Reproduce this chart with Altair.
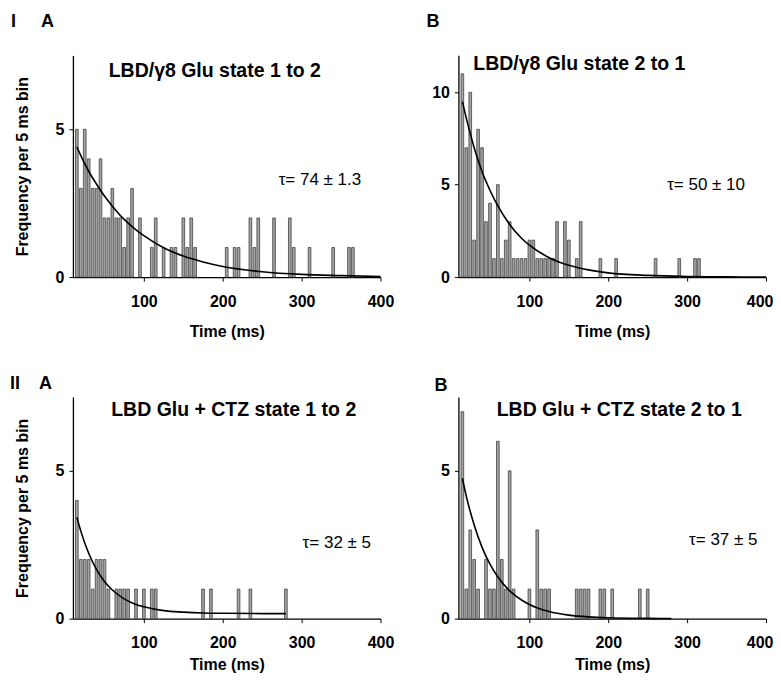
import altair as alt
import pandas as pd

FONT = "Liberation Sans"

# ---------- Panel I A : LBD/γ8 Glu state 1 to 2 ----------
ia_t = [15, 20, 25, 30, 35, 40, 45, 50, 55, 60, 65, 70, 75, 80, 85, 95, 110, 115, 125,
        135, 140, 150, 155, 160, 165, 205, 215, 220, 235, 240, 245, 265, 285, 290, 310,
        340, 360, 365]
ia_n = [5, 3, 5, 4, 3, 3, 4, 2, 2, 3, 2, 2, 1, 2, 3, 2, 1, 2, 1,
        1, 1, 2, 1, 2, 1, 1, 1, 1, 2, 1, 2, 2, 2, 1, 1,
        1, 1, 1]
ia_ct = [15, 20, 30, 40, 50, 60, 75, 90, 100, 125, 150, 175, 200, 250, 300, 350, 400]
ia_cy = [4.41, 4.11, 3.58, 3.14, 2.74, 2.40, 1.95, 1.60, 1.40, 0.99, 0.71, 0.51, 0.36,
         0.18, 0.09, 0.05, 0.02]

# ---------- Panel I B : LBD/γ8 Glu state 2 to 1 ----------
ib_t = [15, 20, 25, 30, 35, 40, 45, 50, 55, 60, 65, 70, 75, 80, 85, 90, 95, 100, 105,
        110, 115, 120, 125, 130, 135, 145, 150, 160, 165, 190, 210, 260, 290, 310, 315]
ib_n = [11, 7, 10, 2, 8, 7, 3, 4, 1, 5, 1, 2, 3, 1, 1, 1, 1, 2, 2,
        1, 1, 1, 1, 1, 3, 3, 2, 1, 3, 1, 1, 1, 1, 1, 1]
ib_ct = [15, 20, 30, 40, 50, 60, 75, 90, 100, 125, 150, 175, 200, 250, 300, 350, 400]
ib_cy = [9.5, 8.6, 7.0, 5.7, 4.7, 3.85, 2.85, 2.1, 1.73, 1.05, 0.64, 0.39, 0.23,
         0.09, 0.03, 0.01, 0.0]

# ---------- Panel II A : LBD Glu + CTZ state 1 to 2 ----------
iia_t = [15, 20, 25, 30, 35, 40, 45, 50, 55, 65, 70, 75, 80, 90, 100, 110, 115,
         175, 185, 220, 235, 280]
iia_n = [4, 2, 2, 2, 1, 2, 2, 2, 1, 1, 1, 1, 1, 1, 1, 1, 1,
         1, 1, 1, 1, 1]
iia_ct = [15, 20, 30, 40, 50, 60, 75, 90, 100, 125, 150, 175, 200, 250, 280]
iia_cy = [3.43, 2.96, 2.21, 1.66, 1.26, 0.97, 0.67, 0.48, 0.40, 0.27, 0.22, 0.19,
          0.18, 0.17, 0.17]

# ---------- Panel II B : LBD Glu + CTZ state 2 to 1 ----------
iib_t = [15, 20, 25, 30, 35, 45, 50, 55, 60, 65, 70, 75, 80, 100, 110, 115, 120, 125,
         160, 165, 170, 175, 190, 195, 205, 240, 250]
iib_n = [7, 1, 3, 2, 1, 2, 1, 1, 6, 2, 1, 5, 1, 1, 3, 1, 1, 1,
         1, 1, 1, 1, 1, 1, 1, 1, 1]
iib_ct = [15, 20, 30, 40, 50, 60, 75, 90, 100, 125, 150, 175, 200, 250, 280]
iib_cy = [4.75, 4.14, 3.17, 2.41, 1.84, 1.41, 0.94, 0.63, 0.48, 0.24, 0.12, 0.06,
          0.03, 0.01, 0.005]

x_ticks = [100, 200, 300, 400]

W, H = 308, 222


def text_layer(txt, x, y, size, weight="bold", align="left"):
    return alt.Chart(pd.DataFrame({"s": [txt]})).mark_text(
        align=align, baseline="middle", font=FONT, fontSize=size,
        fontWeight=weight, color="black"
    ).encode(x=alt.value(x), y=alt.value(y), text="s:N")


def panel(t, n, ct, cy, ymax, yticks, title, title_xy, tau, tau_xy, letters, ytitle,
          xtitle_pad, right_col):
    xs = alt.Scale(domain=[10, 400], nice=False, zero=False)
    ys = alt.Scale(domain=[0, ymax], nice=False, zero=True)
    if right_col:
        xaxis = alt.Axis(values=x_ticks, title="Time (ms)", grid=False, format="d",
                         labelFlush=True, labelFlushOffset=7, titlePadding=xtitle_pad)
    else:
        xaxis = alt.Axis(values=x_ticks, title="Time (ms)", grid=False, format="d",
                         labelFlush=False, titlePadding=xtitle_pad)
    if ytitle:
        yaxis = alt.Axis(values=yticks, title="Frequency per 5 ms bin", grid=False,
                         format="d", labelFlush=False)
    else:
        yaxis = alt.Axis(values=yticks, title=None, grid=False, format="d",
                         labelFlush=False)
    bars = alt.Chart(pd.DataFrame({"t": t, "n": n})).transform_calculate(
        x0="datum.t - 1.7", x1="datum.t + 1.7", z="0"
    ).mark_rect(fill="#a2a2a2", stroke="#444444", strokeWidth=0.8).encode(
        x=alt.X("x0:Q", scale=xs, axis=xaxis),
        x2="x1:Q",
        y=alt.Y("n:Q", scale=ys, axis=yaxis),
        y2="z:Q",
    )
    line = alt.Chart(pd.DataFrame({"t": ct, "y": cy})).mark_line(
        color="black", strokeWidth=1.6, interpolate="monotone"
    ).encode(x="t:Q", y="y:Q")
    layers = [bars, line,
              text_layer(title, title_xy[0], title_xy[1], 19.5, align="center"),
              text_layer(tau, tau_xy[0], tau_xy[1], 17, weight="normal")]
    for (s, lx, ly) in letters:
        layers.append(text_layer(s, lx, ly, 18))
    return alt.layer(*layers).properties(width=W, height=H)


p1 = panel(ia_t, ia_n, ia_ct, ia_cy, 7.5, [0, 5], "LBD/γ8 Glu state 1 to 2",
           (142, 16), "τ= 74 ± 1.3", (206, 125),
           [("I", -62, -33), ("A", -32, -33)], True, 14, False)
p2 = panel(ib_t, ib_n, ib_ct, ib_cy, 12, [0, 5, 10], "LBD/γ8 Glu state 2 to 1",
           (121, 9), "τ= 50 ± 10", (209, 130),
           [("B", -32, -33)], False, 14, True)
p3 = panel(iia_t, iia_n, iia_ct, iia_cy, 7.5, [0, 5], "LBD Glu + CTZ state 1 to 2",
           (161, 13), "τ= 32 ± 5", (230, 146),
           [("II", -63, -13), ("A", -34, -13)], True, 6, False)
p4 = panel(iib_t, iib_n, iib_ct, iib_cy, 7.5, [0, 5], "LBD Glu + CTZ state 2 to 1",
           (161, 13), "τ= 37 ± 5", (231, 143),
           [("B", -24, -11)], False, 6, True)

chart = alt.concat(
    p1, p2, p3, p4, columns=2, bounds="flush",
    spacing=alt.RowColnumber(row=120, column=78),
).properties(
    padding={"left": 2, "top": 5, "right": 0, "bottom": 0}
).configure_view(strokeWidth=0).configure_axis(
    domainColor="black", tickColor="black", labelColor="black", titleColor="black",
    domainWidth=1.3, tickWidth=1, tickSize=4,
    labelFont=FONT, labelFontSize=16, labelFontWeight="bold",
    titleFont=FONT, titleFontSize=16, titleFontWeight="bold",
).configure_axisX(labelPadding=12).configure_axisY(
    labelPadding=5, titlePadding=25
)

chart.save("out.html", embed_options={"renderer": "svg", "actions": False})
